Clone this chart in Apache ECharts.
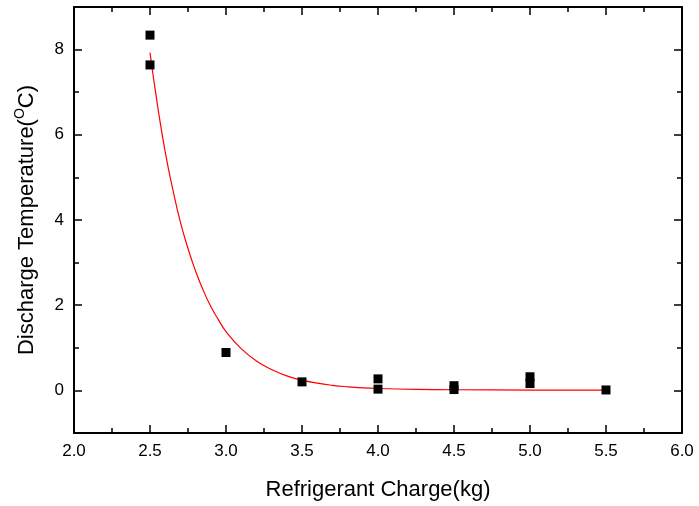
<!DOCTYPE html>
<html>
<head>
<meta charset="utf-8">
<script src="https://cdn.jsdelivr.net/npm/echarts@6/dist/echarts.min.js"></script>
<style>html,body{margin:0;padding:0;background:#fff;}#c{width:699px;height:506px;}</style>
</head>
<body>
<div id="c"></div>
<script>
// Measured points (charge kg, discharge temperature)
const pointX = [2.5, 2.5, 3.0, 3.5, 4.0, 4.0, 4.5, 4.5, 5.0, 5.0, 5.5];
const pointY = [8.34, 7.64, 0.89, 0.20, 0.27, 0.03, 0.11, 0.02, 0.32, 0.16, 0.01];
// Fitted curve
const curveX = [2.5, 2.55, 2.6, 2.65, 2.7, 2.75, 2.8, 2.85, 2.9, 2.95, 3.0, 3.1, 3.2, 3.3, 3.4, 3.5, 3.6, 3.7, 3.8, 3.9, 4.0, 4.25, 4.5, 5.0, 5.5];
const curveY = [7.93, 6.68, 5.60, 4.72, 3.95, 3.33, 2.80, 2.35, 1.97, 1.66, 1.38, 0.98, 0.69, 0.49, 0.34, 0.24, 0.17, 0.12, 0.085, 0.06, 0.045, 0.025, 0.015, 0.008, 0.005];
const yLabels = [0, 2, 4, 6, 8];

const font = "Arial, 'Liberation Sans', sans-serif";
const chart = echarts.init(document.getElementById('c'), null, {renderer: 'canvas'});

const axisLine = {show: true, onZero: false, lineStyle: {color: '#000', width: 2}};
const xCommon = {
  type: 'value', min: 2, max: 6, interval: 0.5,
  axisLine: axisLine,
  axisTick: {show: true, inside: true, length: 8, lineStyle: {color: '#000', width: 1.5}},
  minorTick: {show: true, splitNumber: 2, length: 5, lineStyle: {color: '#000', width: 1.5}},
  splitLine: {show: false}, minorSplitLine: {show: false}
};
const yCommon = {
  type: 'value', min: -1, max: 9,
  axisLine: axisLine,
  axisTick: {show: true, inside: true, length: 8, customValues: yLabels, lineStyle: {color: '#000', width: 1.5}},
  splitLine: {show: false}
};
const yMinorCommon = {
  type: 'value', min: -1, max: 9, interval: 2,
  axisLine: {show: false},
  axisTick: {show: true, inside: true, length: 5, lineStyle: {color: '#000', width: 1.5}},
  axisLabel: {show: false},
  splitLine: {show: false}
};

const option = {
  backgroundColor: '#fff',
  animation: false,
  grid: {left: 74, right: 17, top: 7, bottom: 73, containLabel: false},
  xAxis: [
    Object.assign({}, xCommon, {
      position: 'bottom',
      name: 'Refrigerant Charge(kg)', nameLocation: 'middle', nameGap: 46,
      nameTextStyle: {fontFamily: font, fontSize: 22, color: '#000'},
      axisLabel: {show: true, margin: 10, fontFamily: font, fontSize: 17, color: '#000',
        formatter: v => v.toFixed(1)}
    }),
    Object.assign({}, xCommon, {position: 'top', axisLabel: {show: false}})
  ],
  yAxis: [
    Object.assign({}, yCommon, {
      position: 'left',
      name: '{t|Discharge Temperature(}{s|O}{t|C)}', nameLocation: 'middle', nameGap: 36,
      nameTextStyle: {fontFamily: font, fontSize: 22, color: '#000',
        rich: {t: {fontFamily: font, fontSize: 22, color: '#000', verticalAlign: 'bottom', lineHeight: 25},
               s: {fontFamily: font, fontSize: 14, color: '#000', verticalAlign: 'top', lineHeight: 14}}},
      axisLabel: {show: true, margin: 10, fontFamily: font, fontSize: 17, color: '#000', customValues: yLabels}
    }),
    Object.assign({}, yCommon, {position: 'right', axisLabel: {show: false}}),
    Object.assign({}, yMinorCommon, {position: 'left'}),
    Object.assign({}, yMinorCommon, {position: 'right'})
  ],
  series: [
    {
      type: 'line', xAxisIndex: 0, yAxisIndex: 0,
      data: curveX.map((x, i) => [x, curveY[i]]),
      smooth: true, showSymbol: false, symbol: 'none',
      lineStyle: {color: '#ff0000', width: 1.2}, z: 2
    },
    {
      type: 'scatter', xAxisIndex: 0, yAxisIndex: 0,
      data: pointX.map((x, i) => [x, pointY[i]]),
      symbol: 'rect', symbolSize: 9,
      itemStyle: {color: '#000', opacity: 1}, z: 3
    }
  ]
};
chart.setOption(option);
</script>
</body>
</html>
